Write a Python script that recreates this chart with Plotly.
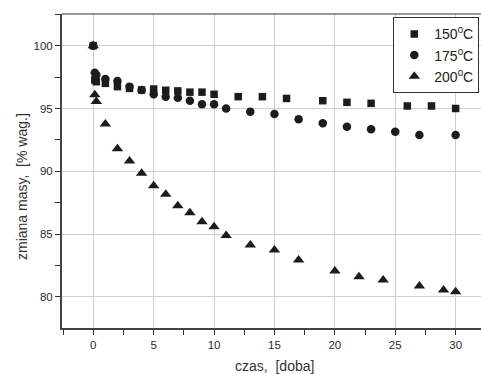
import plotly.graph_objects as go

# ---- data ----
t150 = [0, 0.125, 0.25, 1, 2, 3, 4, 5, 6, 7, 8, 9, 10, 12, 14, 16, 19, 21, 23, 26, 28, 30]
m150 = [100, 97.27, 97.13, 97.0, 96.74, 96.6, 96.47, 96.55, 96.45, 96.4, 96.3, 96.3, 96.13,
        95.94, 95.94, 95.8, 95.62, 95.49, 95.41, 95.2, 95.2, 95.0]

t175 = [0, 0.125, 0.25, 1, 2, 3, 4, 5, 6, 7, 8, 9, 10, 11, 13, 15, 17, 19, 21, 23, 25, 27, 30]
m175 = [100, 97.85, 97.67, 97.35, 97.19, 96.74, 96.47, 96.13, 95.94, 95.86, 95.62, 95.33, 95.33,
        95.0, 94.75, 94.56, 94.14, 93.82, 93.55, 93.34, 93.15, 92.89, 92.89]

t200 = [0, 0.125, 0.25, 1, 2, 3, 4, 5, 6, 7, 8, 9, 10, 11, 13, 15, 17, 20, 22, 24, 27, 29, 30]
m200 = [100, 96.1, 95.55, 93.77, 91.8, 90.82, 89.84, 88.85, 88.17, 87.26, 86.7, 85.99, 85.59,
        84.9, 84.13, 83.73, 82.94, 82.06, 81.61, 81.35, 80.87, 80.55, 80.41]

series_names = ["150<sup>0</sup>C", "175<sup>0</sup>C", "200<sup>0</sup>C"]
x_ticks = [0, 5, 10, 15, 20, 25, 30]
y_ticks = [80, 85, 90, 95, 100]

FONT = "Liberation Sans, Arial, Helvetica, sans-serif"
MK = "#1c1c1c"

fig = go.Figure()
fig.add_trace(go.Scatter(x=t150, y=m150, mode="markers", name=series_names[0],
                         marker=dict(symbol="square", size=7.5, color=MK)))
fig.add_trace(go.Scatter(x=t175, y=m175, mode="markers", name=series_names[1],
                         marker=dict(symbol="circle", size=8.5, color=MK)))
fig.add_trace(go.Scatter(x=t200, y=m200, mode="markers", name=series_names[2],
                         marker=dict(symbol="triangle-up", size=10, color=MK)))

L, T, B = 62, 14, 46
W, H = 481, 374
fig.update_layout(
    width=W, height=H,
    margin=dict(l=L, r=0, t=T, b=B, pad=0),
    paper_bgcolor="white", plot_bgcolor="white",
    font=dict(family=FONT, color="#333333"),
    showlegend=True,
    legend=dict(x=(393.3 - L) / (W - L), y=(H - B - 17.3) / (H - T - B),
                xanchor="left", yanchor="top",
                bgcolor="white", bordercolor="#333333", borderwidth=1,
                font=dict(size=14, family=FONT, color="#222222")),
    xaxis=dict(range=[-2.59, 32.1], tickvals=x_ticks, ticks="outside", ticklen=5,
               tickcolor="#333333", tickwidth=1,
               showline=True, linecolor="#444444", linewidth=2,
               showgrid=True, gridcolor="#cfcfcf", gridwidth=1.2, zeroline=False,
               tickfont=dict(size=11.5, color="#2a2a2a"),
               minor=dict(dtick=2.5, tick0=0, ticks="outside", ticklen=5,
                          tickcolor="#333333", showgrid=False)),
    yaxis=dict(range=[77.53, 102.52], tickvals=y_ticks, ticks="outside", ticklen=5,
               tickcolor="#333333", tickwidth=1,
               showline=True, linecolor="#444444", linewidth=2,
               showgrid=True, gridcolor="#cfcfcf", gridwidth=1.2, zeroline=False,
               tickfont=dict(size=11.5, color="#2a2a2a"),
               minor=dict(dtick=2.5, tick0=0, ticks="outside", ticklen=5,
                          tickcolor="#333333", showgrid=False)),
    shapes=[dict(type="line", xref="paper", yref="paper", x0=0, x1=1, y0=1, y1=1,
                 line=dict(color="#333333", width=1.2))],
    annotations=[
        dict(text="zmiana masy,  [% wag.]", xref="paper", yref="paper",
             x=(22 - L) / (W - L), y=(H - B - 187) / (H - T - B),
             xanchor="center", yanchor="middle", textangle=-90, showarrow=False,
             font=dict(size=14, family=FONT, color="#333333")),
        dict(text="czas,  [doba]", xref="paper", yref="paper",
             x=(274 - L) / (W - L), y=(H - B - 366) / (H - T - B),
             xanchor="center", yanchor="middle", showarrow=False,
             font=dict(size=14, family=FONT, color="#333333")),
    ],
)

fig.write_html("out.html", config={"displayModeBar": False},
               post_script="document.body.style.margin='0px';document.body.style.overflow='hidden';")
